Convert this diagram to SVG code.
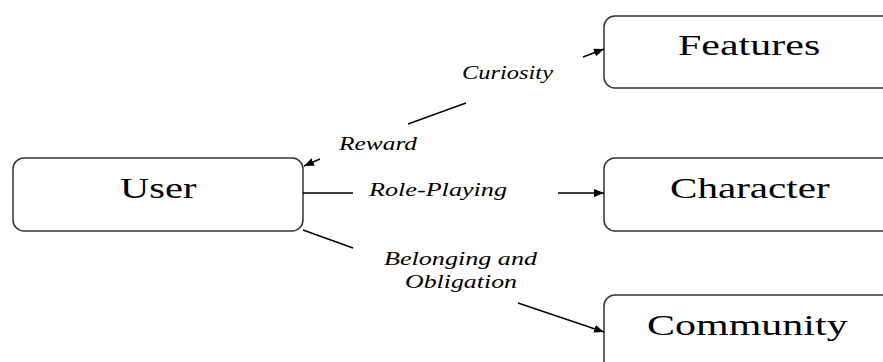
<svg xmlns="http://www.w3.org/2000/svg" width="883" height="362" viewBox="0 0 883 362">
<defs>
<style>
.box{fill:#fff;stroke:#333;stroke-width:1.5}
.nt{font-family:'Liberation Serif',serif;font-size:30px;fill:#000}
.lt{font-family:'Liberation Serif',serif;font-size:18px;font-style:italic;fill:#000}
.ln{stroke:#000;stroke-width:1.4;fill:none}
</style>
<marker id="ah" viewBox="0 0 10 8" refX="10" refY="4" markerWidth="10" markerHeight="8" markerUnits="userSpaceOnUse" orient="auto">
<path d="M0,0 L10,4 L0,8 Z" fill="#000"/>
</marker>
</defs>
<rect width="883" height="362" fill="#fff"/>
<g id="user">
<rect class="box" x="13" y="158" width="290" height="73" rx="11"/>
<text class="nt" transform="translate(120,198) scale(1.35,1)" x="0" y="0">User</text>
</g>
<g id="features">
<rect class="box" x="604" y="16" width="300" height="72" rx="11"/>
<text class="nt" transform="translate(678,55) scale(1.4,1)" x="0" y="0">Features</text>
</g>
<g id="character">
<rect class="box" x="604" y="158" width="300" height="73" rx="11"/>
<text class="nt" transform="translate(670,198) scale(1.37,1)" x="0" y="0">Character</text>
</g>
<g id="community">
<rect class="box" x="604" y="295" width="300" height="80" rx="11"/>
<text class="nt" transform="translate(647,335) scale(1.4,1)" x="0" y="0">Community</text>
</g>
<g id="connectors">
<line class="ln" x1="408" y1="124" x2="466" y2="103"/>
<line class="ln" x1="320" y1="159" x2="304" y2="166" marker-end="url(#ah)"/>
<line class="ln" x1="583" y1="57" x2="604" y2="49" marker-end="url(#ah)"/>
<line class="ln" x1="303" y1="193" x2="353" y2="193"/>
<line class="ln" x1="558" y1="193" x2="604" y2="193" marker-end="url(#ah)"/>
<line class="ln" x1="303" y1="230" x2="353" y2="248"/>
<line class="ln" x1="518" y1="303" x2="604" y2="332" marker-end="url(#ah)"/>
</g>
<g id="labels">
<text class="lt" x="462" y="79" textLength="91" lengthAdjust="spacingAndGlyphs">Curiosity</text>
<text class="lt" x="339" y="150" textLength="78" lengthAdjust="spacingAndGlyphs">Reward</text>
<text class="lt" x="369" y="196" textLength="138" lengthAdjust="spacingAndGlyphs">Role-Playing</text>
<text class="lt" x="384" y="265" textLength="153" lengthAdjust="spacingAndGlyphs">Belonging and</text>
<text class="lt" x="405" y="288" textLength="112" lengthAdjust="spacingAndGlyphs">Obligation</text>
</g>
</svg>
